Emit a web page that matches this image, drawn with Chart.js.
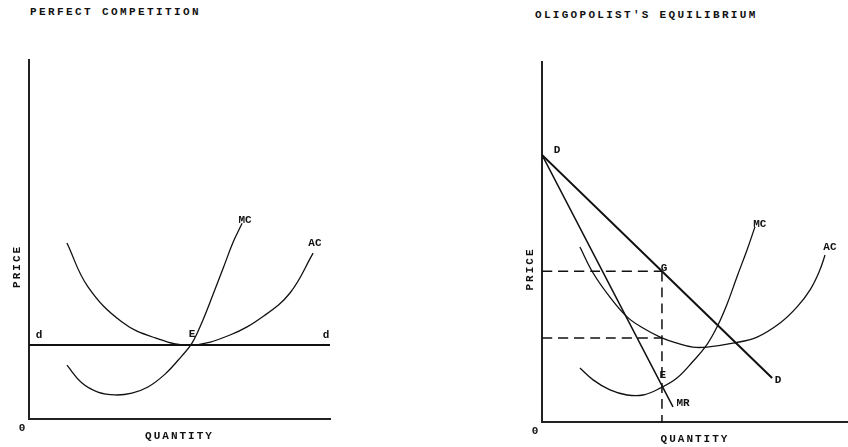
<!DOCTYPE html>
<html>
<head>
<meta charset="utf-8">
<script src="https://cdn.jsdelivr.net/npm/chart.js@4.4.1/dist/chart.umd.min.js"></script>
<style>
  html, body { margin: 0; padding: 0; background: #fff; }
  #wrap { position: relative; width: 848px; height: 447px; overflow: hidden; }
  .pane { position: absolute; top: 0; width: 424px; height: 447px; }
  .title {
    position: absolute; font: bold 11px "Liberation Mono", monospace;
    color: #111; white-space: nowrap;
  }
</style>
</head>
<body>
<div id="wrap">
  <div class="title" style="left:30px; top:6px; letter-spacing:2.4px;">PERFECT COMPETITION</div>
  <div class="title" style="left:535px; top:9px; letter-spacing:2.3px;">OLIGOPOLIST'S EQUILIBRIUM</div>
  <div class="pane" style="left:0"><canvas id="left" width="424" height="447"></canvas></div>
  <div class="pane" style="left:424px"><canvas id="right" width="424" height="447"></canvas></div>
</div>
<script>
// perfect competition (quantity / price, 0-100 units)
const leftAcQ = [12.6, 19.6, 30.9, 41.9, 53.5, 66.8, 78.0, 86.7, 94.4];
const leftAcP = [49.0, 36.8, 27.0, 22.6, 20.6, 23.4, 28.7, 35.1, 46.2];
const leftMcQ = [12.6, 17.6, 22.9, 28.6, 34.2, 39.5, 45.2, 50.8, 54.2, 57.8, 61.1, 64.5, 67.8, 70.8];
const leftMcP = [15.0, 10.0, 7.5, 6.7, 7.2, 8.9, 12.5, 17.6, 21.2, 27.6, 34.6, 42.0, 49.2, 54.5];
const leftDemandQ = [0, 100];
const leftDemandP = [20.6, 20.6];

// oligopolist
const rightDemandQ = [0, 75.2];
const rightDemandP = [74.2, 12.2];
const rightMrQ = [0, 42.8];
const rightMrP = [74.2, 4.2];
const rightAcQ = [12.4, 16.7, 22.2, 27.8, 33.0, 38.6, 44.1, 49.3, 53.9, 62.4, 70.3, 77.8, 83.3, 87.6, 90.8, 92.5];
const rightAcP = [48.6, 41.4, 34.7, 29.2, 26.1, 23.6, 21.9, 20.8, 20.8, 21.9, 23.6, 27.5, 31.9, 36.7, 42.2, 46.4];
const rightMcQ = [12.4, 16.7, 22.2, 27.8, 33.0, 38.6, 44.1, 49.3, 53.9, 57.2, 60.5, 63.7, 67.0, 69.6];
const rightMcP = [15.0, 11.7, 8.9, 7.5, 7.5, 9.4, 12.2, 16.8, 21.5, 26.4, 32.8, 40.3, 47.8, 54.2];
const priceG = 41.9;
const costAtQ = 23.3;
const qStar = 39.2;

// curve labels: [text, quantity, price]
const leftLabels = [["MC", 71.8, 55.4], ["AC", 95.0, 49.0], ["d", 3.3, 23.4], ["d", 98.7, 23.4], ["E", 54.2, 23.7]];
const rightLabels = [["D", 4.9, 75.6], ["D", 77.1, 11.7], ["G", 39.9, 42.8], ["E", 39.5, 13.1],
                     ["MR", 46.1, 5.3], ["MC", 71.2, 55.0], ["AC", 94.1, 48.6]];

const zip = (xs, ys) => xs.map((x, i) => ({ x: x, y: ys[i] }));
const INK = "#111";

function curve(q, p, width, dash) {
    return {
        data: zip(q, p),
        showLine: true,
        borderColor: INK,
        borderWidth: width,
        borderDash: dash || [],
        pointRadius: 0,
        tension: 0.4,
        fill: false
    };
}

const textPlugin = {
    id: "texts",
    afterDraw(chart) {
        const { ctx, chartArea, scales: { x, y } } = chart;
        const opts = chart.options.plugins.texts;
        ctx.save();
        ctx.fillStyle = INK;
        ctx.textAlign = "center";
        ctx.textBaseline = "middle";
        ctx.font = "bold 11px 'Liberation Mono', monospace";
        opts.labels.forEach(l => {
            ctx.fillText(l[0], x.getPixelForValue(l[1]), y.getPixelForValue(l[2]));
        });
        ctx.letterSpacing = "2px";
        ctx.fillText("0", chartArea.left - 6, chartArea.bottom + 9);
        ctx.fillText("QUANTITY", x.getPixelForValue(50), chartArea.bottom + 17);
        ctx.translate(chartArea.left - 12, y.getPixelForValue(42.5));
        ctx.rotate(-Math.PI / 2);
        ctx.fillText("PRICE", 0, 0);
        ctx.restore();
    }
};

function makeChart(id, datasets, labels, padding) {
    return new Chart(document.getElementById(id), {
        type: "scatter",
        data: { datasets: datasets },
        options: {
            responsive: false,
            animation: false,
            layout: { padding: padding },
            plugins: { legend: { display: false }, tooltip: { enabled: false }, texts: { labels: labels } },
            scales: {
                x: {
                    min: 0, max: 100,
                    grid: { display: false, drawTicks: false },
                    border: { display: true, color: "#222", width: 2 },
                    ticks: { display: false }
                },
                y: {
                    min: 0, max: 100,
                    grid: { display: false, drawTicks: false },
                    border: { display: true, color: "#222", width: 2 },
                    ticks: { display: false }
                }
            }
        },
        plugins: [textPlugin]
    });
}

makeChart("left", [
    curve(leftDemandQ, leftDemandP, 2),
    curve(leftAcQ, leftAcP, 1.3),
    curve(leftMcQ, leftMcP, 1.3)
], leftLabels, { left: 29, right: 94, top: 60, bottom: 28 });

makeChart("right", [
    curve(rightDemandQ, rightDemandP, 2),
    curve(rightMrQ, rightMrP, 1.5),
    curve(rightAcQ, rightAcP, 1.3),
    curve(rightMcQ, rightMcP, 1.3),
    curve([0, qStar], [priceG, priceG], 1.5, [10, 6]),
    curve([0, qStar], [costAtQ, costAtQ], 1.5, [10, 6]),
    curve([qStar, qStar], [priceG, 0], 1.5, [10, 6])
], rightLabels, { left: 118, right: 0, top: 62, bottom: 25 });
</script>
</body>
</html>
